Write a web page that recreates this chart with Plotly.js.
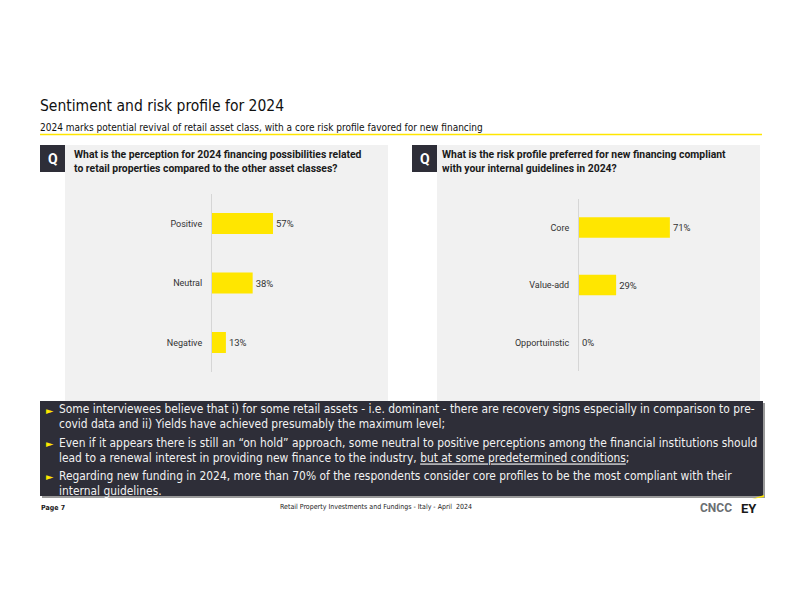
<!DOCTYPE html>
<html><head><meta charset="utf-8">
<script src="https://cdn.plot.ly/plotly-3.0.1.min.js"></script>
<style>html,body{margin:0;padding:0;background:#fff}#chart{width:800px;height:600px}</style>
</head><body><div id="chart"></div>
<script>
// ---- data ----
const perceptionCategories = ["Positive", "Neutral", "Negative"];
const perceptionValues = [57, 38, 13];
const riskCategories = ["Core", "Value-add", "Opportuinstic"];
const riskValues = [71, 29, 0];
const valueSuffix = "%";

// ---- layout helpers (pixel -> paper) ----
const W = 800, H = 600;
const fx = x => x / W, fy = y => 1 - y / H;
const FONT = "'Liberation Sans Narrow','DejaVu Sans Condensed','Roboto Condensed',Roboto,sans-serif";
const BODY = "Roboto,'Liberation Sans',sans-serif";
const YELLOW = "#ffe600", DARK = "#2e2e38", PANEL = "#f1f1f1", TXT = "#333333";

const traces = [
  {
    type: "bar", orientation: "h",
    x: perceptionValues, y: perceptionCategories,
    xaxis: "x", yaxis: "y",
    marker: {color: YELLOW}, width: 0.35,
    text: perceptionValues.map(v => v + valueSuffix),
    textposition: "outside", cliponaxis: false,
    textfont: {family: BODY, size: 9.5, color: TXT},
    hoverinfo: "skip"
  },
  {
    type: "bar", orientation: "h",
    x: riskValues, y: riskCategories,
    xaxis: "x2", yaxis: "y2",
    marker: {color: YELLOW}, width: 0.36,
    text: riskValues.map(v => v + valueSuffix),
    textposition: "outside", cliponaxis: false,
    textfont: {family: BODY, size: 9.5, color: TXT},
    hoverinfo: "skip"
  }
];

const yCommon = {
  autorange: "reversed", showline: true, linecolor: "#d6d6d6", linewidth: 1,
  showgrid: false, zeroline: false, ticks: "", ticklabelstandoff: 7,
  tickfont: {family: BODY, size: 9, color: TXT}, fixedrange: true
};

const layout = {
  width: W, height: H,
  margin: {l: 0, r: 0, t: 0, b: 0},
  paper_bgcolor: "#ffffff", plot_bgcolor: "rgba(0,0,0,0)",
  showlegend: false,
  xaxis: {domain: [fx(212), fx(319)], range: [0, 100], visible: false, fixedrange: true},
  yaxis: Object.assign({}, yCommon, {domain: [fy(372.25), fy(193.75)], anchor: "x"}),
  xaxis2: {domain: [fx(579), fx(707)], range: [0, 100], visible: false, anchor: "y2", fixedrange: true},
  yaxis2: Object.assign({}, yCommon, {domain: [fy(371.25), fy(198.75)], anchor: "x2"}),
  shapes: [
    {type: "line", xref: "paper", yref: "paper", x0: fx(40), x1: fx(762), y0: fy(134.5), y1: fy(134.5), line: {color: YELLOW, width: 1.5}, layer: "below"},
    {type: "rect", xref: "paper", yref: "paper", x0: fx(65), x1: fx(388), y0: fy(401), y1: fy(145), fillcolor: PANEL, line: {width: 0}, layer: "below"},
    {type: "rect", xref: "paper", yref: "paper", x0: fx(437), x1: fx(760), y0: fy(401), y1: fy(145), fillcolor: PANEL, line: {width: 0}, layer: "below"},
    {type: "rect", xref: "paper", yref: "paper", x0: fx(40), x1: fx(65), y0: fy(172), y1: fy(145), fillcolor: DARK, line: {width: 0}, layer: "below"},
    {type: "rect", xref: "paper", yref: "paper", x0: fx(412), x1: fx(437), y0: fy(172), y1: fy(145), fillcolor: DARK, line: {width: 0}, layer: "below"},
    {type: "rect", xref: "paper", yref: "paper", x0: fx(42), x1: fx(765), y0: fy(498), y1: fy(403), fillcolor: "#9a9a9a", line: {width: 0}, layer: "below"},
    {type: "rect", xref: "paper", yref: "paper", x0: fx(40), x1: fx(763), y0: fy(496), y1: fy(401), fillcolor: DARK, line: {width: 0}, layer: "below"},
    {type: "path", xref: "paper", yref: "paper", path: `M ${fx(752)} ${fy(499)} L ${fx(764)} ${fy(495)} L ${fx(764)} ${fy(497)} Z`, fillcolor: YELLOW, line: {width: 0}, layer: "above"}
  ],
  annotations: [
    {text: "Sentiment and risk profile for 2024", xref: "paper", yref: "paper", x: fx(38), y: fy(106), xanchor: "left", yanchor: "middle", showarrow: false, font: {family: FONT, size: 15.5, color: "#111111"}},
    {text: "2024 marks potential revival of retail asset class, with a core risk profile favored for new financing", xref: "paper", yref: "paper", x: fx(38), y: fy(127), xanchor: "left", yanchor: "middle", showarrow: false, font: {family: FONT, size: 10, color: "#111111"}},
    {text: "<b>Q</b>", xref: "paper", yref: "paper", x: fx(52.5), y: fy(158.5), xanchor: "center", yanchor: "middle", showarrow: false, font: {family: BODY, size: 14, color: "#ffffff"}},
    {text: "<b>Q</b>", xref: "paper", yref: "paper", x: fx(424.5), y: fy(158.5), xanchor: "center", yanchor: "middle", showarrow: false, font: {family: BODY, size: 14, color: "#ffffff"}},
    {text: "<b>What is the perception for 2024 financing possibilities related<br>to retail properties compared to the other asset classes?</b>", xref: "paper", yref: "paper", x: fx(72), y: fy(161.5), xanchor: "left", yanchor: "middle", align: "left", showarrow: false, font: {family: BODY, size: 10.4, color: "#1a1a1a"}},
    {text: "<b>What is the risk profile preferred for new financing compliant<br>with your internal guidelines in 2024?</b>", xref: "paper", yref: "paper", x: fx(440), y: fy(161.5), xanchor: "left", yanchor: "middle", align: "left", showarrow: false, font: {family: BODY, size: 10.4, color: "#1a1a1a"}},
    {text: "►", xref: "paper", yref: "paper", x: fx(50), y: fy(410), xanchor: "center", yanchor: "middle", showarrow: false, font: {family: "DejaVu Sans", size: 9.5, color: YELLOW}},
    {text: "►", xref: "paper", yref: "paper", x: fx(50), y: fy(443), xanchor: "center", yanchor: "middle", showarrow: false, font: {family: "DejaVu Sans", size: 9.5, color: YELLOW}},
    {text: "►", xref: "paper", yref: "paper", x: fx(50), y: fy(476), xanchor: "center", yanchor: "middle", showarrow: false, font: {family: "DejaVu Sans", size: 9.5, color: YELLOW}},
    {text: "Some interviewees believe that i) for some retail assets - i.e. dominant - there are recovery signs especially in comparison to pre-<br>covid data and ii) Yields have achieved presumably the maximum level;", xref: "paper", yref: "paper", x: fx(57), y: fy(417), xanchor: "left", yanchor: "middle", align: "left", showarrow: false, font: {family: FONT, size: 11.9, color: "#f2f2f2"}},
    {text: "Even if it appears there is still an “on hold” approach, some neutral to positive perceptions among the financial institutions should<br>lead to a renewal interest in providing new finance to the industry, <u>but at some predetermined conditions</u>;", xref: "paper", yref: "paper", x: fx(57), y: fy(450), xanchor: "left", yanchor: "middle", align: "left", showarrow: false, font: {family: FONT, size: 11.9, color: "#f2f2f2"}},
    {text: "Regarding new funding in 2024, more than 70% of the respondents consider core profiles to be the most compliant with their<br>internal guidelines.", xref: "paper", yref: "paper", x: fx(57), y: fy(483), xanchor: "left", yanchor: "middle", align: "left", showarrow: false, font: {family: FONT, size: 11.9, color: "#f2f2f2"}},
    {text: "<b>Page 7</b>", xref: "paper", yref: "paper", x: fx(39), y: fy(508), xanchor: "left", yanchor: "middle", showarrow: false, font: {family: FONT, size: 7, color: "#1a1a1a"}},
    {text: "Retail Property Investments and Fundings - Italy - April  2024", xref: "paper", yref: "paper", x: fx(376), y: fy(507), xanchor: "center", yanchor: "middle", showarrow: false, font: {family: FONT, size: 7, color: "#1a1a1a"}},
    {text: "<b>CNCC</b>", xref: "paper", yref: "paper", x: fx(716), y: fy(508), xanchor: "center", yanchor: "middle", showarrow: false, font: {family: BODY, size: 12, color: "#6b6f72"}},
    {text: "<b>EY</b>", xref: "paper", yref: "paper", x: fx(749), y: fy(508), xanchor: "center", yanchor: "middle", showarrow: false, font: {family: BODY, size: 13, color: "#1a1a1a"}}
  ]
};

Plotly.newPlot("chart", traces, layout, {displayModeBar: false, staticPlot: true});
</script>
</body></html>
